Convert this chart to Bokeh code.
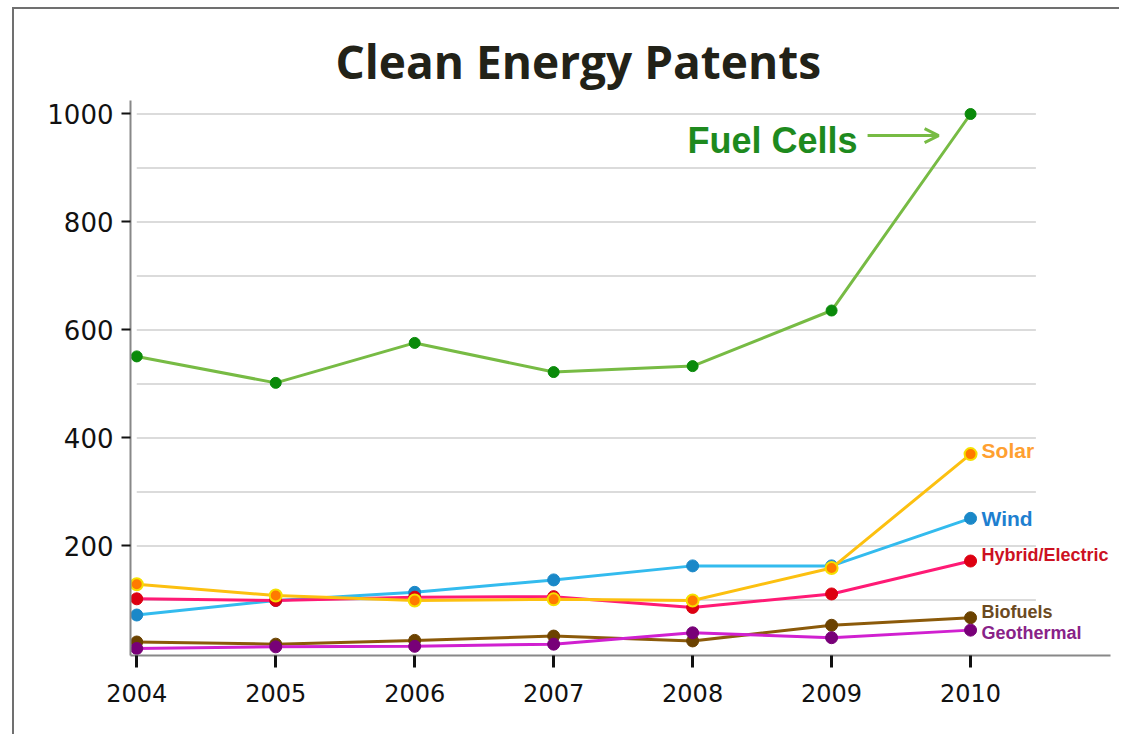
from bokeh.plotting import figure
from bokeh.models import FixedTicker, Arrow, OpenHead, Range1d
from bokeh.core.properties import value
from bokeh.embed import file_html
from bokeh.resources import INLINE

# ---- data ----
years = [2004, 2005, 2006, 2007, 2008, 2009, 2010]
fuel_cells = [551, 502, 576, 522, 533, 636, 1000]
solar = [129, 108, 99, 101, 99, 159, 370]
wind = [72, 99, 114, 137, 163, 163, 251]
hybrid_electric = [102, 99, 105, 106, 86, 111, 172]
biofuels = [22, 18, 25, 33, 24, 53, 67]
geothermal = [10, 13, 14, 18, 39, 30, 44]

y_ticks = [200, 400, 600, 800, 1000]
grid_ticks = [100, 200, 300, 400, 500, 600, 700, 800, 900, 1000]

# ---- styles ----
series = [
    # name, values, line color, marker fill, marker outline, label color, label y offset
    ("Biofuels", biofuels, "#8b5a0a", "#6b4200", "#6b4200", "#6b4a1f", -6),
    ("Geothermal", geothermal, "#d020d0", "#780078", "#780078", "#882288", 3),
    ("Wind", wind, "#33bbee", "#1a88c8", "#1a88c8", "#1e7fd0", 0),
    ("Hybrid/Electric", hybrid_electric, "#ff1a75", "#dd0011", "#dd0011", "#cc1122", -6),
    ("Solar", solar, "#fcc010", "#ff7a00", "#f5e000", "#ffa030", -4),
]

p = figure(
    width=1107, height=727,
    output_backend="svg", toolbar_location=None,
    x_range=Range1d(2003.955, 2011.007), y_range=Range1d(-3, 1025),
    min_border_left=116, min_border_right=11, min_border_top=91, min_border_bottom=81,
    styles={"border-left": "2px solid #707070", "border-top": "2px solid #707070",
            "margin-left": "12px", "margin-top": "7px"},
)
p.outline_line_color = None
p.background_fill_color = "white"
p.border_fill_color = "white"
p.xgrid.visible = False
p.ygrid.visible = False

p.title.text = "Clean Energy Patents"
p.title.align = "left"
p.title.offset = 205
p.title.text_font = "Open Sans"
p.title.text_font_size = "46px"
p.title.text_font_style = "bold"
p.title.text_color = "#222218"
p.title.standoff = 18

# gridlines
grid_end = years[-1] + 0.47
p.segment(x0=[years[0]] * len(grid_ticks), x1=[grid_end] * len(grid_ticks),
          y0=grid_ticks, y1=grid_ticks, line_color="#cfcfcf", line_width=1.5)

# axes
for ax in (p.xaxis[0], p.yaxis[0]):
    ax.axis_line_color = "#888888"
    ax.axis_line_width = 2
    ax.major_tick_line_color = "#111111"
    ax.major_tick_line_width = 3
    ax.minor_tick_line_color = None
    ax.major_tick_in = 0
    ax.major_label_text_font = "DejaVu Sans"
    ax.major_label_text_color = "#111111"

p.xaxis.ticker = FixedTicker(ticks=years)
p.xaxis.major_tick_out = 12
p.xaxis.major_label_standoff = 16
p.xaxis.major_label_text_font_size = "24px"

p.yaxis.ticker = FixedTicker(ticks=y_ticks)
p.yaxis.major_tick_out = 9
p.yaxis.major_tick_line_width = 2
p.yaxis.major_label_standoff = 8
p.yaxis.major_label_text_font_size = "26px"

for name, vals, lc, mf, mo, tc, yoff in series:
    p.line(years, vals, line_color=lc, line_width=3)
    if name == "Solar":
        p.scatter(years, vals, size=12, fill_color=mf, line_color=mo, line_width=2)
    else:
        p.scatter(years, vals, size=12, fill_color=mf, line_color=mo, line_width=1)
    fs = "21px" if name in ("Solar", "Wind") else "18px"
    p.text(x=[years[-1]], y=[vals[-1]], text=[name], x_offset=11, y_offset=yoff,
           text_font=value("Liberation Sans"), text_font_style="bold", text_font_size=fs,
           text_color=tc, text_baseline="middle", text_align="left")

# Fuel cells
p.line(years, fuel_cells, line_color="#77bb44", line_width=3)
p.scatter(years, fuel_cells, size=11, fill_color="#0a8a0a", line_color="#0a8a0a")
p.text(x=[years[-1]], y=[fuel_cells[-1]], text=["Fuel Cells"], x_offset=-113, y_offset=27,
       text_font=value("Liberation Sans"), text_font_style="bold", text_font_size="36px",
       text_color="#1e8a1e", text_baseline="middle", text_align="right")
p.add_layout(Arrow(x_start=2009.259, y_start=960, x_end=2009.77, y_end=960,
                   line_color="#77bb44", line_width=3,
                   end=OpenHead(size=14, line_color="#77bb44", line_width=3)))

open("out.html", "w").write(file_html(p, INLINE))
